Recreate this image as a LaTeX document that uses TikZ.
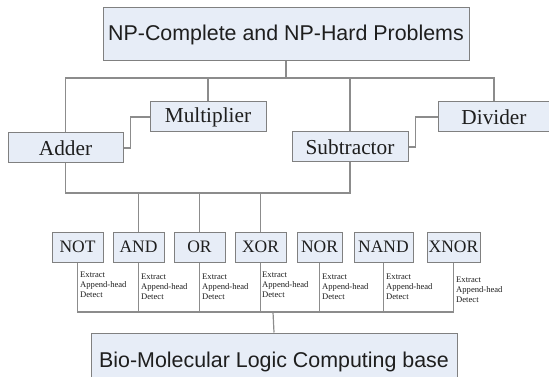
\documentclass[tikz,border=0pt]{standalone}
\usepackage{fontspec}
\setmainfont{Liberation Serif}
\newfontfamily\arialfont{Liberation Sans}
\definecolor{boxfill}{RGB}{231,237,247}
\definecolor{boxline}{RGB}{128,128,128}
\definecolor{wire}{RGB}{140,140,140}
\definecolor{ink}{RGB}{30,30,30}
\tikzset{
  box/.style={draw=boxline, line width=1pt, fill=boxfill, inner sep=0pt,
    rectangle, text=ink},
  headbox/.style={box, font=\arialfont\fontsize{21.4}{24}\selectfont},
  unitbox/.style={box, font=\fontsize{21.3}{24}\selectfont, minimum height=30pt},
  gatebox/.style={box, font=\fontsize{17.5}{20}\selectfont, minimum height=30pt},
  opnote/.style={anchor=north west, inner sep=0pt, align=left, text=ink,
    font=\fontsize{8.6}{10}\selectfont},
  link/.style={draw=wire, line width=1.2pt}
}
\begin{document}
\begin{tikzpicture}[x=1pt, y=-1pt]
\useasboundingbox (0,0) rectangle (549,377);
\clip (0,0) rectangle (549,377);

% problem level
\node[headbox, minimum width=366pt, minimum height=53pt] (top) at (286,34.5)
  {NP-Complete and NP-Hard Problems};

% arithmetic units
\node[unitbox, minimum width=115pt] (adder) at (65.5,148) {Adder};
\node[unitbox, minimum width=116pt] (mult) at (208,117) {Multiplier};
\node[unitbox, minimum width=116pt] (sub) at (350,147) {Subtractor};
\node[unitbox, minimum width=112pt] (div) at (494,117) {Divider};

% logic gates
\node[gatebox, minimum width=51pt] (NOT)  at (77.5,247)  {NOT};
\node[gatebox, minimum width=51pt] (AND)  at (138.5,247) {AND};
\node[gatebox, minimum width=51pt] (OR)   at (199.5,247) {OR};
\node[gatebox, minimum width=51pt] (XOR)  at (260.5,247) {XOR};
\node[gatebox, minimum width=45pt] (NOR)  at (319.5,247) {NOR};
\node[gatebox, minimum width=59pt] (NAND) at (383.5,247) {NAND};
\node[gatebox, minimum width=53pt] (XNOR) at (453.5,247) {XNOR};

% base level
\node[headbox, minimum width=366pt, minimum height=57pt] (base) at (274,361.5)
  {Bio-Molecular Logic Computing base};

% bus heights
\coordinate (busT) at (286,78);
\coordinate (busM) at (0,193);
\coordinate (busB) at (273,312);

% top tree
\draw[link] (top.south) -- (busT);
\draw[link] (adder.north) |- (busT) -| (div.north);
\draw[link] (mult.north) -- (mult.north |- busT);
\draw[link] (sub.north) -- (sub.north |- busT);

% side elbows
\draw[link] (adder.east) -- ++(7,0) |- (mult.west);
\draw[link] (sub.east) -- ++(7,0) |- (div.west);

% middle bus to the gates
\draw[link] (adder.south) -- (adder.south |- busM) -- (sub.south |- busM) -- (sub.south);
\draw[link] (AND.north) -- (AND.north |- busM);
\draw[link] (OR.north) -- (OR.north |- busM);
\draw[link] (XOR.north) -- (XOR.north |- busM);

% lower bus to the base
\draw[link] (NOT.south) |- (busB) -| (XNOR.south);
\foreach \g in {AND,OR,XOR,NOR,NAND}
  \draw[link] (\g.south) -- (\g.south |- busB);
\draw[link] (base.north) -- (busB);

% operations under each gate
\node[opnote] (nNOT)  at (80,272)  {Extract\\Append-head\\Detect};
\node[opnote] (nAND)  at (141,274) {Extract\\Append-head\\Detect};
\node[opnote] (nOR)   at (202,274) {Extract\\Append-head\\Detect};
\node[opnote] (nXOR)  at (262,272) {Extract\\Append-head\\Detect};
\node[opnote] (nNOR)  at (322,274) {Extract\\Append-head\\Detect};
\node[opnote] (nNAND) at (386,274) {Extract\\Append-head\\Detect};
\node[opnote] (nXNOR) at (456,277) {Extract\\Append-head\\Detect};
\end{tikzpicture}
\end{document}
